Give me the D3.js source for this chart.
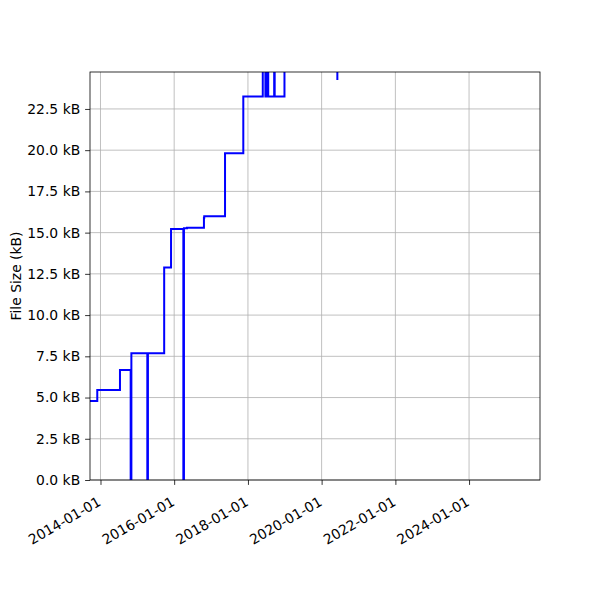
<!DOCTYPE html>
<html>
<head>
<meta charset="utf-8">
<script src="https://cdn.jsdelivr.net/npm/d3@7"></script>
<style>
  body { margin: 0; background: #fff; }
  text { font-family: "DejaVu Sans", sans-serif; }
</style>
</head>
<body>
<svg id="chart" width="600" height="600"></svg>
<script>
// Commit dates and file sizes (kB)
const dates = [
  "2013-09-19", "2013-11-30", "2014-07-13", "2014-10-27", "2014-11-03",
  "2015-04-10", "2015-04-16", "2015-09-24", "2015-12-01", "2016-04-01",
  "2016-04-07", "2016-05-07", "2016-10-22", "2016-10-25", "2017-05-19",
  "2017-11-16", "2018-05-28", "2018-06-23", "2018-07-01", "2018-07-21",
  "2018-09-18", "2018-09-23", "2018-12-29", "2020-06-05"
];
const sizes = [
  4.79, 5.45, 6.67, 0, 7.68,
  0, 7.68, 12.88, 15.22, 0,
  15.26, 15.30, 15.9, 16.0, 19.81,
  23.25, 26.5, 23.25, 26.5, 23.25,
  26.5, 23.25, 26.5, 24.26
];
const xDomain = ["2013-09-19", "2025-12-04"];
const yMax = 24.74;
const yTicks = [0, 2.5, 5, 7.5, 10, 12.5, 15, 17.5, 20, 22.5];
const xTicks = ["2014-01-01", "2016-01-01", "2018-01-01", "2020-01-01", "2022-01-01", "2024-01-01"];
const yLabel = "File Size (kB)";

const parse = d3.utcParse("%Y-%m-%d");
const fmtDate = d3.utcFormat("%Y-%m-%d");
const data = dates.map((d, i) => ({ date: parse(d), size: sizes[i] }));

const margin = { left: 90, right: 60, top: 72, bottom: 120 };
const W = 600, H = 600;
const iw = W - margin.left - margin.right;
const ih = H - margin.top - margin.bottom;
const fs = "13.9px";

const svg = d3.select("#chart");
const g = svg.append("g").attr("transform", `translate(${margin.left},${margin.top})`);

const x = d3.scaleUtc().domain(xDomain.map(parse)).range([0, iw]);
const y = d3.scaleLinear().domain([0, yMax]).range([ih, 0]);

// grid
g.append("g").selectAll("line").data(xTicks.map(parse)).join("line")
  .attr("x1", d => x(d)).attr("x2", d => x(d))
  .attr("y1", 0).attr("y2", ih)
  .attr("stroke", "#b0b0b0").attr("stroke-width", 0.8);
g.append("g").selectAll("line").data(yTicks).join("line")
  .attr("x1", 0).attr("x2", iw)
  .attr("y1", d => y(d)).attr("y2", d => y(d))
  .attr("stroke", "#b0b0b0").attr("stroke-width", 0.8);

// clip
svg.append("defs").append("clipPath").attr("id", "clip")
  .append("rect").attr("x", 0).attr("y", 0).attr("width", iw).attr("height", ih);

const line = d3.line()
  .x(d => x(d.date))
  .y(d => y(d.size))
  .curve(d3.curveStepAfter);

g.append("path")
  .datum(data)
  .attr("clip-path", "url(#clip)")
  .attr("fill", "none")
  .attr("stroke", "#0000ff")
  .attr("stroke-width", 2)
  .attr("d", line);

// axes
const xAxis = d3.axisBottom(x)
  .tickValues(xTicks.map(parse))
  .tickFormat(fmtDate)
  .tickSize(4.9).tickPadding(3.5);
const gx = g.append("g").attr("transform", `translate(0,${ih})`).call(xAxis);
gx.select(".domain").remove();
gx.selectAll("line").attr("stroke", "#000").attr("stroke-width", 0.8);
gx.selectAll(".tick text")
  .attr("font-size", fs)
  .attr("fill", "#000")
  .attr("text-anchor", "end")
  .attr("x", 0).attr("y", 0)
  .attr("dy", "0.71em")
  .attr("transform", "translate(-4,16) rotate(-30)");

const yAxis = d3.axisLeft(y)
  .tickValues(yTicks)
  .tickFormat(d => d3.format(".1f")(d) + " kB")
  .tickSize(4.9).tickPadding(4.9);
const gy = g.append("g").call(yAxis);
gy.select(".domain").remove();
gy.selectAll("line").attr("stroke", "#000").attr("stroke-width", 0.8);
gy.selectAll("text").attr("font-size", fs).attr("fill", "#000");

// frame
g.append("rect").attr("x", 0).attr("y", 0).attr("width", iw).attr("height", ih)
  .attr("fill", "none").attr("stroke", "#000").attr("stroke-width", 0.8);

// y label
svg.append("text")
  .attr("transform", `translate(21,${margin.top + ih / 2}) rotate(-90)`)
  .attr("text-anchor", "middle")
  .attr("font-size", fs)
  .attr("fill", "#000")
  .text(yLabel);
</script>
</body>
</html>
